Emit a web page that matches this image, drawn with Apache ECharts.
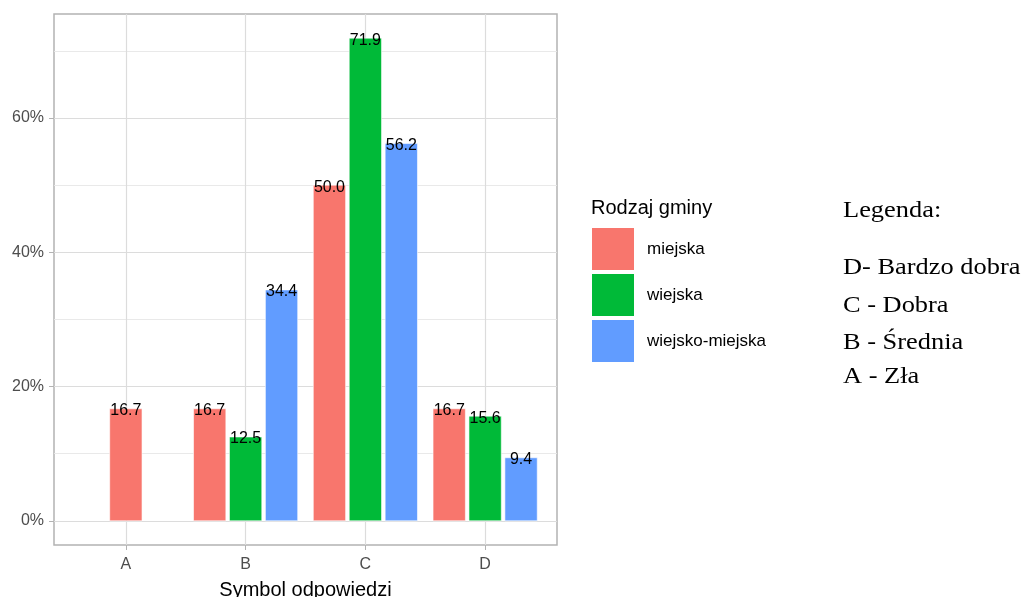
<!DOCTYPE html>
<html>
<head>
<meta charset="utf-8">
<script src="https://cdn.jsdelivr.net/npm/echarts@6/dist/echarts.min.js"></script>
<style>
  html, body { margin: 0; padding: 0; background: #fff; }
  #chart { width: 1024px; height: 597px; }
</style>
</head>
<body>
<div id="chart"></div>
<script>
// dane wykresu
var categories = ['A', 'B', 'C', 'D'];
var seriesNames = ['miejska', 'wiejska', 'wiejsko-miejska'];
var miejska = [16.7, 16.7, 50.0, 16.7];
var wiejska = [null, 12.5, 71.9, 15.6];
var wiejskoMiejska = [null, 34.4, 56.2, 9.4];
var yTicks = [0, 20, 40, 60];
var legendNotes = ['D- Bardzo dobra', 'C - Dobra', 'B - Średnia', 'A - Zła'];

var colors = ['#F8766D', '#00BA38', '#619CFF'];
var allValues = [miejska, wiejska, wiejskoMiejska];
var sans = 'Liberation Sans, Arial, sans-serif';
var serif = 'Liberation Serif, Times New Roman, serif';

// ile słupków w danej kategorii (dodge jak w ggplot)
function countAt(i) {
    var n = 0;
    allValues.forEach(function (arr) { if (arr[i] != null) n++; });
    return n;
}
function slotAt(i, s) {
    var k = 0;
    for (var j = 0; j < s; j++) if (allValues[j][i] != null) k++;
    return k;
}

function renderBar(params, api) {
    var x = api.value(0), v = api.value(1), k = api.value(2), n = api.value(3);
    var off = (k - (n - 1) / 2) * 0.3;
    var tl = api.coord([x + off - 0.135, v]);
    var br = api.coord([x + off + 0.135, 0]);
    return {
        type: 'group',
        children: [{
            type: 'rect',
            shape: { x: tl[0], y: tl[1], width: br[0] - tl[0], height: br[1] - tl[1] },
            style: { fill: api.visual('color'), stroke: '#ffffff', lineWidth: 0.6 }
        }, {
            type: 'text',
            x: (tl[0] + br[0]) / 2,
            y: tl[1] + 2,
            style: {
                text: v.toFixed(1), fill: '#000', fontSize: 16, fontFamily: sans,
                align: 'center', verticalAlign: 'middle'
            }
        }]
    };
}

var series = allValues.map(function (arr, s) {
    var data = [];
    arr.forEach(function (v, i) {
        if (v != null) data.push([i, v, slotAt(i, s), countAt(i)]);
    });
    return {
        type: 'custom',
        name: seriesNames[s],
        renderItem: renderBar,
        itemStyle: { color: colors[s] },
        encode: { x: 0, y: 1 },
        data: data
    };
});

var graphics = [{
    type: 'text', x: 591, y: 208,
    style: { text: 'Rodzaj gminy', fill: '#000', fontSize: 20, fontFamily: sans, verticalAlign: 'middle' }
}, {
    type: 'text', x: 843, y: 211, scaleX: 1.1,
    style: { text: 'Legenda:', fill: '#000', fontSize: 24, fontFamily: serif, verticalAlign: 'middle' }
}];
var noteY = [268, 306, 343, 377];
legendNotes.forEach(function (t, i) {
    graphics.push({
        type: 'text', x: 843, y: noteY[i], scaleX: 1.1,
        style: { text: t, fill: '#000', fontSize: 24, fontFamily: serif, verticalAlign: 'middle' }
    });
});

var myChart = echarts.init(document.getElementById('chart'));
var option = {
    animation: false,
    color: colors,
    backgroundColor: '#ffffff',
    grid: {
        left: 54, top: 14, width: 503, height: 531,
        outerBoundsMode: 'none',
        containLabel: false,
        show: true, borderColor: '#B3B3B3', borderWidth: 1.5, backgroundColor: '#ffffff'
    },
    legend: {
        orient: 'vertical',
        left: 592, top: 228,
        padding: 0,
        itemWidth: 42, itemHeight: 42, itemGap: 4,
        icon: 'rect',
        data: seriesNames,
        textStyle: { fontSize: 17, fontFamily: sans, color: '#000', padding: [0, 0, 0, 8] }
    },
    xAxis: {
        type: 'value',
        min: -0.6, max: 3.6,
        name: 'Symbol odpowiedzi',
        nameLocation: 'middle',
        nameGap: 35,
        nameTextStyle: { fontSize: 20, fontFamily: sans, color: '#000' },
        axisLine: { show: false, onZero: false },
        axisTick: { show: true, length: 5, customValues: [0, 1, 2, 3], lineStyle: { color: '#B3B3B3' } },
        axisLabel: {
            customValues: [0, 1, 2, 3],
            margin: 12,
            fontSize: 16, fontFamily: sans, color: '#4D4D4D',
            formatter: function (v) { return categories[Math.round(v)] || ''; }
        },
        splitLine: { show: true, lineStyle: { color: '#DCDCDC', width: 1.2 } }
    },
    yAxis: {
        type: 'value',
        min: -3.595, max: 75.495,
        axisLine: { show: false, onZero: false },
        axisTick: { show: true, length: 5, customValues: yTicks, lineStyle: { color: '#B3B3B3' } },
        axisLabel: {
            customValues: yTicks,
            margin: 10,
            fontSize: 16, fontFamily: sans, color: '#4D4D4D',
            formatter: function (v) { return v + '%'; }
        },
        splitLine: { show: true, lineStyle: { color: '#DCDCDC', width: 1.2 } },
        minorTick: { show: false, splitNumber: 2 },
        minorSplitLine: { show: true, lineStyle: { color: '#E6E6E6', width: 0.9 } }
    },
    graphic: graphics,
    series: series
};
myChart.setOption(option);
</script>
</body>
</html>
